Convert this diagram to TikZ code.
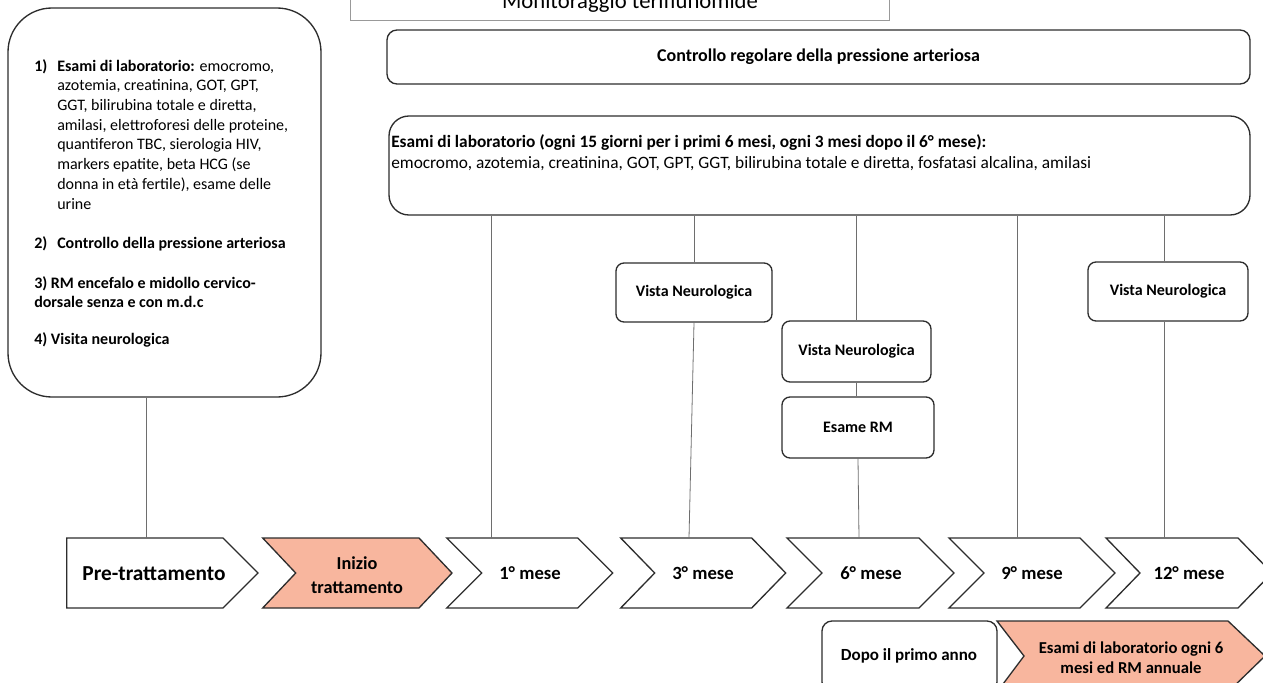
\documentclass[tikz,border=0pt]{standalone}
\usepackage{fontspec}
\setmainfont{Carlito}
\usetikzlibrary{fit}
\definecolor{salmon}{RGB}{248,182,158}
\definecolor{edgec}{RGB}{45,45,45}
\definecolor{wirec}{RGB}{110,110,110}

% chevron: #1 left x, #2 tip x, #3 point depth, #4 extra style
\newcommand{\chevshape}[4]{%
  \draw[chev,#4] (#1,538) -- ({#2-#3},538) -- (#2,573) -- ({#2-#3},608)
    -- (#1,608) -- ({#1+#3},573) -- cycle;}

\begin{document}
\begin{tikzpicture}[x=0.75pt,y=-0.75pt,
  box/.style={draw=edgec, line width=1pt, fill=white, inner sep=0pt, rounded corners=6pt},
  lbl/.style={font=\fontsize{12}{14.8}\selectfont\bfseries, inner sep=0pt},
  body/.style={font=\fontsize{12}{14.8}\selectfont, inner sep=0pt, anchor=base west, align=left},
  labtext/.style={font=\fontsize{13}{16}\selectfont, inner sep=0pt, anchor=base west},
  chev/.style={draw=edgec, line width=1pt, fill=white, line join=miter},
  month/.style={font=\fontsize{14}{17}\selectfont\bfseries},
  wire/.style={draw=wirec, line width=0.6pt},
]
\useasboundingbox (0,0) rectangle (1263,682);
\clip (0,0) rectangle (1263,682);

% title
\node[draw=gray!80, line width=0.6pt, inner sep=0pt, fit={(350,-8) (889,20)}] (title) {};
\node[font=\fontsize{17}{20}\selectfont, anchor=base] (titletxt) at (630,8) {Monitoraggio teriflunomide};

% pre-treatment checklist
\node[box, rounded corners=33pt, fit={(8,8) (321,397)}] (prebox) {};
\node[body] (item1) at (34,71) {\begin{tabular}[t]{@{}p{17.25pt}@{}l@{}}
  \textbf{1)} & \textbf{Esami di laboratorio:} emocromo,\\
  & azotemia, creatinina, GOT, GPT,\\
  & GGT, bilirubina totale e diretta,\\
  & amilasi, elettroforesi delle proteine,\\
  & quantiferon TBC, sierologia HIV,\\
  & markers epatite, beta HCG (se\\
  & donna in età fertile), esame delle\\
  & urine
\end{tabular}};
\node[body] (item2) at (34,248) {\begin{tabular}[t]{@{}p{17.25pt}@{}l@{}}
  \textbf{2)} & \textbf{Controllo della pressione arteriosa}
\end{tabular}};
\node[body] (item3) at (34,288) {\begin{tabular}[t]{@{}l@{}}
  \textbf{3) RM encefalo e midollo cervico-}\\
  \textbf{dorsale senza e con m.d.c}
\end{tabular}};
\node[body] (item4) at (34,344) {\textbf{4) Visita neurologica}};

% ongoing checks
\node[box, rounded corners=7.5pt, fit={(387,30) (1250,84)}] (bp) {};
\node[lbl, font=\fontsize{13.5}{16}\selectfont\bfseries] (bpt) at (bp.center) {Controllo regolare della pressione arteriosa};
\node[box, rounded corners=15pt, fit={(389,116) (1250,215)}] (lab) {};
\node[labtext] (labA) at (391,147) {\textbf{Esami di laboratorio (ogni 15 giorni per i primi 6 mesi, ogni 3 mesi dopo il 6° mese):}};
\node[labtext] (labB) at (391,168) {emocromo, azotemia, creatinina, GOT, GPT, GGT, bilirubina totale e diretta, fosfatasi alcalina, amilasi};

% visits
\node[box, fit={(616,263) (772,322)}] (v3) {};
\node[lbl] (v3t) at (v3.center) {Vista Neurologica};
\node[box, fit={(782,321) (931,382)}] (v6) {};
\node[lbl] (v6t) at (v6.center) {Vista Neurologica};
\node[box, fit={(782,397) (934,458)}] (rm6) {};
\node[lbl] (rm6t) at (rm6.center) {Esame RM};
\node[box, fit={(1088,262) (1248,321)}] (v12) {};
\node[lbl] (v12t) at (v12.center) {Vista Neurologica};

% timeline
\draw[chev] (66.7,538) -- (223,538) -- (258,573) -- (223,608) -- (66.7,608) -- cycle;
\chevshape{262.7}{452}{33}{fill=salmon}
\chevshape{446.7}{612.7}{35}{}
\chevshape{620.7}{785.7}{34}{}
\chevshape{787}{954}{35}{}
\chevshape{949}{1115}{35}{}
\chevshape{1106}{1272}{34}{}

\node[font=\fontsize{16}{19}\selectfont\bfseries, anchor=base] (mpre) at (154,580) {Pre-trattamento};
\node[font=\fontsize{13.7}{18}\selectfont\bfseries, align=center] (mstart) at (357,575) {Inizio\\trattamento};
\node[month, anchor=base] (m1) at (530,579) {1° mese};
\node[month, anchor=base] (m3) at (703,579) {3° mese};
\node[month, anchor=base] (m6) at (871,579) {6° mese};
\node[month, anchor=base] (m9) at (1032,579) {9° mese};
\node[month, anchor=base] (m12) at (1189,579) {12° mese};

\coordinate (cpre) at (146,538);
\coordinate (c1) at (491,538);
\coordinate (c3) at (689,538);
\coordinate (c6) at (859,538);
\coordinate (c9) at (1017,538);
\coordinate (c12) at (1164,538);

% connectors
\draw[wire] (prebox.south -| cpre) -- (cpre);
\draw[wire] (lab.south -| c1) -- (c1);
\draw[wire] (lab.south -| v3.north) -- (v3.north);
\draw[wire] (v3.south) -- (c3);
\draw[wire] (lab.south -| v6.north) -- (v6.north);
\draw[wire] (v6.south) -- (v6.south |- rm6.north);
\draw[wire] (rm6.south) -- (c6);
\draw[wire] (lab.south -| c9) -- (c9);
\draw[wire] (lab.south -| c12) -- (c12 |- v12.north);
\draw[wire] (c12 |- v12.south) -- (c12);

% after the first year
\node[box, rounded corners=7.5pt, fit={(822,621) (997,692)}] (after) {};
\node[lbl, font=\fontsize{12.75}{15}\selectfont\bfseries] (aftert) at (909,656) {Dopo il primo anno};
\draw[chev, fill=salmon] (997,621) -- (1228,621) -- (1265,656) -- (1228,692) -- (997,692) -- (1024,656) -- cycle;
\node[font=\fontsize{12.5}{15}\selectfont\bfseries, align=center, inner sep=0pt] (yearly) at (1131,658) {Esami di laboratorio ogni 6\\mesi ed RM annuale};
\end{tikzpicture}
\end{document}
